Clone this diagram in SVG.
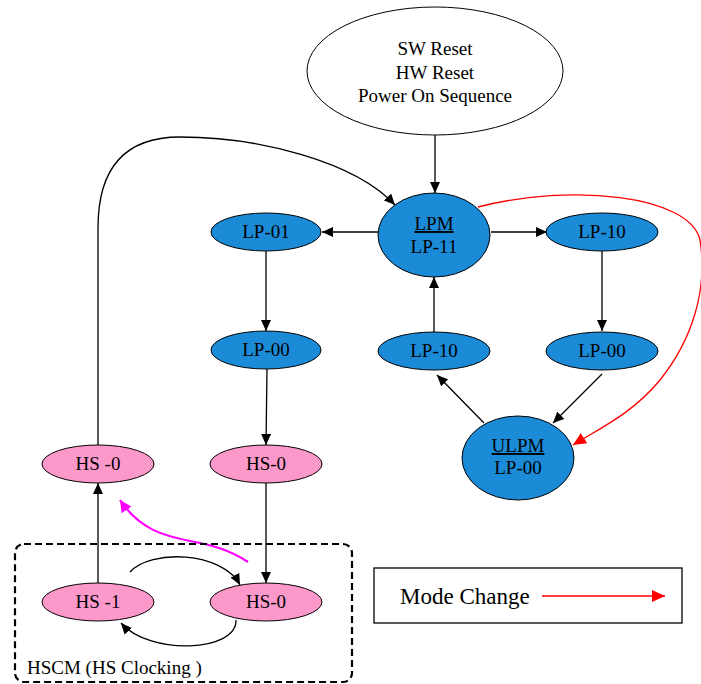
<svg xmlns="http://www.w3.org/2000/svg" width="701" height="684" viewBox="0 0 701 684">
<style>
text{font-family:"Liberation Serif","Times New Roman",serif;font-size:19px;fill:#000;text-anchor:middle}
.blue{fill:#1b8bd8;stroke:#000;stroke-width:1}
.pink{fill:#fd99ca;stroke:#000;stroke-width:1}
.edge{fill:none;stroke:#000;stroke-width:1.3}
.u{text-decoration:underline}
</style>
<defs>
<marker id="ab" markerUnits="userSpaceOnUse" markerWidth="12" markerHeight="10" refX="11" refY="5" orient="auto"><path d="M0,0 L11,5 L0,10 z" fill="#000"/></marker>
<marker id="ar" markerUnits="userSpaceOnUse" markerWidth="14" markerHeight="12" refX="13" refY="6" orient="auto"><path d="M0,0 L13,6 L0,12 z" fill="#f00"/></marker>
<marker id="am" markerUnits="userSpaceOnUse" markerWidth="13" markerHeight="12" refX="12" refY="6" orient="auto"><path d="M0,0 L12,6 L0,12 z" fill="#f0f"/></marker>
</defs>
<rect width="701" height="684" fill="#fff"/>

<g id="connectors">
<path class="edge" d="M435,135 V193" marker-end="url(#ab)"/>
<path class="edge" d="M378,232 H322" marker-end="url(#ab)"/>
<path class="edge" d="M491,232 H547" marker-end="url(#ab)"/>
<path class="edge" d="M266,251 V331" marker-end="url(#ab)"/>
<path class="edge" d="M602,251 V331" marker-end="url(#ab)"/>
<path class="edge" d="M267,369 L266,445" marker-end="url(#ab)"/>
<path class="edge" d="M434,332 V277" marker-end="url(#ab)"/>
<path class="edge" d="M602,374 L553,423" marker-end="url(#ab)"/>
<path class="edge" d="M484,423 L437,375" marker-end="url(#ab)"/>
<path class="edge" d="M266,483 V583" marker-end="url(#ab)"/>
<path class="edge" d="M98,583 V483" marker-end="url(#ab)"/>
<path class="edge" d="M98,445 V228 C98,168 125,137 180,137 C260,137 355,162 395,205" marker-end="url(#ab)"/>
<path class="edge" d="M130,572 C150,549 222,551 240,585" marker-end="url(#ab)"/>
<path class="edge" d="M236,620 C237,652 150,656 121,623" marker-end="url(#ab)"/>
<path d="M478,207 C570,183 690,195 700,240 C708,290 692,340 660,380 C632,414 600,428 573,445" fill="none" stroke="#f00" stroke-width="1.3" marker-end="url(#ar)"/>
<path d="M248,562 C230,550 212,545 190,541 C165,536 140,530 120,500" fill="none" stroke="#f0f" stroke-width="2.2" marker-end="url(#am)"/>
</g>

<g id="reset">
<ellipse cx="435" cy="71" rx="128" ry="64" fill="#fff" stroke="#000" stroke-width="1"/>
<text x="435" y="55">SW Reset</text>
<text x="435" y="79">HW Reset</text>
<text x="435" y="102">Power On Sequence</text>
</g>
<g id="lpm">
<ellipse class="blue" cx="434" cy="235" rx="56" ry="42"/>
<text class="u" x="434" y="230">LPM</text>
<text x="434" y="253">LP-11</text>
</g>
<g id="lp01">
<ellipse class="blue" cx="266" cy="232" rx="55" ry="19"/>
<text x="266" y="238">LP-01</text>
</g>
<g id="lp10a">
<ellipse class="blue" cx="602" cy="232" rx="56" ry="19"/>
<text x="602" y="238">LP-10</text>
</g>
<g id="lp00a">
<ellipse class="blue" cx="266" cy="350" rx="55" ry="19"/>
<text x="266" y="356">LP-00</text>
</g>
<g id="lp10b">
<ellipse class="blue" cx="434" cy="351" rx="56" ry="19"/>
<text x="434" y="357">LP-10</text>
</g>
<g id="lp00b">
<ellipse class="blue" cx="602" cy="351" rx="56" ry="19"/>
<text x="602" y="357">LP-00</text>
</g>
<g id="ulpm">
<ellipse class="blue" cx="518" cy="458" rx="56" ry="42"/>
<text class="u" x="518" y="452">ULPM</text>
<text x="518" y="474">LP-00</text>
</g>
<g id="hs0a">
<ellipse class="pink" cx="98" cy="464" rx="56" ry="19"/>
<text x="98" y="470">HS -0</text>
</g>
<g id="hs0b">
<ellipse class="pink" cx="266" cy="464" rx="56" ry="19"/>
<text x="266" y="470">HS-0</text>
</g>
<g id="hscm">
<rect x="15" y="544" width="337" height="138" rx="9" fill="none" stroke="#000" stroke-width="2.2" stroke-dasharray="7,4"/>
<text x="27" y="674" style="text-anchor:start">HSCM (HS Clocking )</text>
</g>
<g id="hs1">
<ellipse class="pink" cx="98" cy="602" rx="56" ry="19"/>
<text x="98" y="608">HS -1</text>
</g>
<g id="hs0c">
<ellipse class="pink" cx="266" cy="602" rx="56" ry="19"/>
<text x="266" y="608">HS-0</text>
</g>
<g id="legend">
<rect x="374" y="568" width="308" height="55" fill="#fff" stroke="#000" stroke-width="1.3"/>
<text x="400" y="604" style="text-anchor:start;font-size:23px">Mode Change</text>
<path d="M542,596 H665" stroke="#f00" stroke-width="1.3" marker-end="url(#ar)"/>
</g>
</svg>
